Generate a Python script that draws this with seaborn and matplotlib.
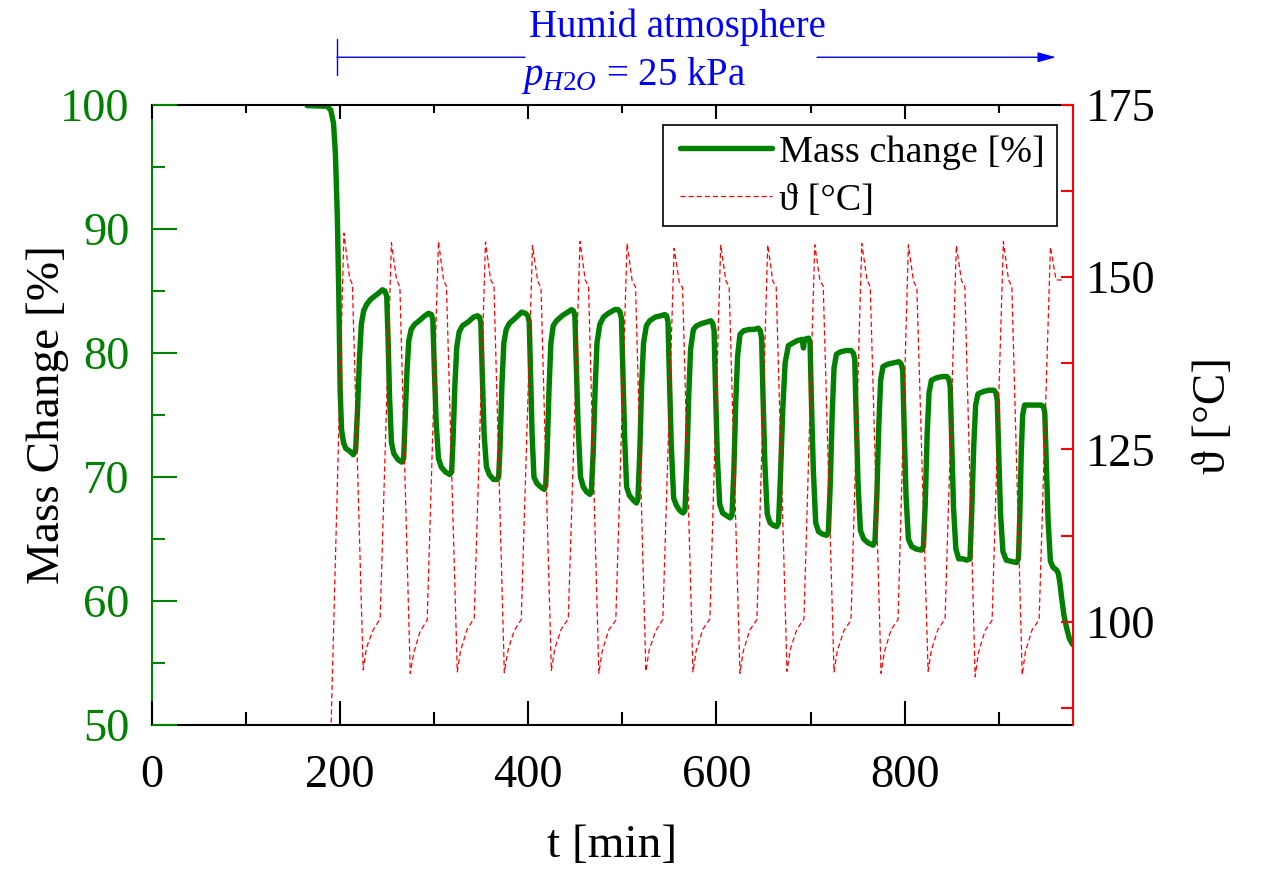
import matplotlib
matplotlib.use("Agg")
import matplotlib.pyplot as plt
from matplotlib.lines import Line2D
from matplotlib.patches import Rectangle
from matplotlib.ticker import MultipleLocator, FixedLocator, NullLocator
import pandas as pd
import seaborn as sns

# Thermogravimetric cycling run: sample mass and furnace temperature over time
time_mass = [
    165.0, 186.0, 190.0, 193.0, 195.0, 197.0, 198.5, 200.0, 201.5, 203.5, 206.0, 210.0, 214.0, 216.5,
    218.5, 220.5, 222.5, 225.0, 228.0, 232.0, 237.0, 242.0, 245.0, 247.5, 249.5,
    251.0, 252.5, 254.5, 257.0, 261.5, 265.5, 267.5, 269.0, 271.0, 273.0, 275.5, 279.0, 284.0, 290.0, 294.0, 297.0, 298.5,
    300.0, 302.0, 304.5, 307.5, 312.0, 316.5, 318.5, 320.0, 322.0, 324.0, 326.5, 330.0, 336.0, 342.0, 346.0, 348.0, 349.5,
    351.0, 353.0, 355.5, 358.5, 363.0, 367.0, 368.5, 370.0, 372.0, 374.0, 376.5, 380.0, 386.0, 393.0, 397.0, 399.5, 401.0,
    402.5, 404.0, 406.0, 409.0, 413.0, 417.0, 418.5, 420.0, 422.0, 424.0, 426.5, 430.0, 436.0, 442.0, 446.0, 448.0, 449.5,
    451.0, 453.0, 455.5, 458.5, 462.0, 465.5, 467.0, 469.0, 471.0, 473.0, 476.0, 480.0, 485.0, 492.0, 495.5, 497.5, 499.0,
    500.5, 502.5, 504.5, 507.5, 512.0, 515.0, 516.5, 518.5, 520.5, 522.5, 525.5, 529.0, 535.0, 541.0, 545.0, 547.0, 548.5,
    550.0, 552.0, 554.5, 557.5, 561.0, 564.5, 566.5, 568.5, 570.5, 572.5, 575.5, 579.0, 585.0, 590.0, 594.0, 596.0, 597.5,
    599.0, 601.0, 603.5, 606.5, 610.5, 614.5, 616.5, 618.5, 620.5, 622.5, 625.0, 629.0, 635.0, 640.0, 644.5, 646.5, 648.0,
    649.5, 651.5, 654.0, 657.0, 660.5, 664.0, 666.0, 668.0, 670.5, 673.0, 676.5, 681.0, 686.0, 691.0, 692.5, 693.5, 698.0, 699.5,
    701.0, 703.0, 705.5, 708.5, 712.5, 717.0, 719.0, 721.0, 723.0, 725.0, 727.5, 732.0, 738.0, 743.0, 745.5, 747.0,
    748.5, 750.5, 753.0, 756.5, 761.0, 766.5, 768.5, 770.5, 772.5, 774.5, 777.0, 782.0, 788.0, 794.0, 796.5, 798.0,
    799.5, 801.5, 804.0, 807.5, 812.0, 818.0, 820.0, 822.0, 824.0, 826.0, 828.5, 834.0, 840.0, 845.0, 847.0, 848.5,
    850.0, 852.0, 854.5, 857.5, 862.0, 866.0, 869.5, 871.5, 873.5, 875.5, 878.0, 884.0, 890.0, 895.0, 897.0, 898.5,
    900.0, 902.0, 904.5, 908.0, 913.0, 919.0, 921.0, 922.5, 924.0, 925.5, 927.5, 933.0, 940.0, 945.0, 947.5, 949.0,
    950.5, 952.5, 955.0, 958.0, 961.5, 963.5, 965.0, 967.0, 969.5, 972.0, 975.0, 978.5,
]
mass_pct = [
    99.95, 99.9, 99.6, 98.5, 96.0, 91.0, 85.0, 77.0, 73.8, 72.8, 72.3, 72.1, 71.8, 72.2,
    75.5, 79.5, 82.3, 83.4, 83.9, 84.3, 84.6, 84.9, 85.1, 85.0, 84.6,
    81.0, 76.5, 72.8, 71.9, 71.4, 71.2, 71.5, 74.5, 78.5, 81.0, 81.9, 82.3, 82.6, 83.0, 83.2, 83.1, 82.7,
    79.0, 74.5, 71.5, 70.8, 70.4, 70.2, 70.4, 73.0, 77.5, 80.5, 81.7, 82.2, 82.5, 82.9, 83.0, 82.9, 82.5,
    78.5, 73.5, 70.8, 70.2, 69.8, 69.8, 70.0, 72.5, 77.5, 80.8, 81.9, 82.4, 82.8, 83.3, 83.2, 83.0, 82.5,
    78.0, 73.5, 70.0, 69.5, 69.2, 69.0, 69.3, 72.0, 77.0, 80.8, 82.2, 82.6, 83.0, 83.3, 83.5, 83.4, 83.0,
    79.0, 74.0, 70.0, 69.2, 68.8, 68.6, 68.8, 72.0, 77.0, 80.8, 82.3, 82.9, 83.2, 83.5, 83.5, 83.3, 82.8,
    78.5, 73.0, 69.2, 68.5, 68.1, 67.9, 68.2, 72.0, 77.5, 80.8, 82.2, 82.6, 82.9, 83.0, 83.1, 83.0, 82.5,
    78.0, 72.5, 68.3, 67.7, 67.3, 67.1, 67.3, 71.0, 76.5, 80.3, 81.9, 82.2, 82.4, 82.5, 82.6, 82.4, 81.8,
    77.0, 71.5, 67.8, 67.1, 66.9, 66.7, 66.9, 70.5, 76.0, 79.8, 81.5, 81.8, 81.9, 81.9, 82.0, 81.8, 81.2,
    76.5, 71.0, 67.0, 66.3, 66.1, 66.0, 66.3, 70.0, 75.5, 79.2, 80.6, 80.8, 81.0, 81.1, 80.4, 81.1, 81.2, 80.8,
    76.0, 70.5, 66.3, 65.6, 65.4, 65.3, 65.6, 69.5, 75.0, 78.8, 79.9, 80.1, 80.2, 80.2, 80.0, 79.5,
    75.0, 69.5, 65.7, 65.0, 64.7, 64.5, 64.8, 68.5, 74.0, 77.8, 78.9, 79.1, 79.2, 79.3, 79.1, 78.6,
    74.0, 68.5, 65.0, 64.4, 64.2, 64.1, 64.4, 68.0, 73.5, 76.8, 77.8, 78.0, 78.1, 78.1, 77.9, 77.3,
    73.0, 67.5, 64.2, 63.4, 63.4, 63.3, 63.4, 67.5, 72.5, 75.8, 76.7, 76.9, 77.0, 77.0, 76.8, 76.2,
    72.0, 67.0, 64.0, 63.3, 63.2, 63.1, 63.4, 67.0, 72.0, 75.0, 75.8, 75.8, 75.8, 75.8, 75.7, 75.2,
    71.5, 66.5, 63.2, 62.7, 62.5, 62.2, 61.5, 60.2, 58.8, 57.9, 57.0, 56.5,
]

time_temp = [
    190.0,
    204.0, 210.0, 213.0, 224.5, 228.0, 235.0, 242.5,
    254.5, 260.0, 263.5, 274.5, 278.5, 285.0, 292.5,
    304.5, 310.0, 313.0, 324.5, 328.0, 335.0, 342.5,
    354.5, 360.0, 363.5, 374.5, 378.5, 385.0, 392.5,
    404.5, 410.0, 413.5, 424.5, 428.0, 435.0, 442.5,
    455.0, 460.5, 464.0, 475.0, 478.5, 485.5, 493.0,
    505.0, 510.5, 514.0, 525.0, 528.5, 535.5, 543.0,
    555.0, 560.5, 564.0, 575.0, 578.5, 585.5, 593.0,
    604.5, 610.0, 613.5, 625.0, 628.5, 635.5, 643.0,
    654.5, 660.0, 663.5, 675.0, 678.5, 685.5, 693.0,
    704.5, 710.0, 713.5, 725.0, 728.5, 735.5, 743.0,
    754.5, 760.0, 763.5, 775.0, 778.5, 785.5, 793.0,
    804.0, 809.5, 813.0, 825.0, 828.5, 835.5, 843.0,
    855.0, 860.5, 864.0, 875.0, 878.5, 885.5, 893.0,
    905.0, 910.5, 914.0, 925.0, 928.5, 935.5, 943.0,
    955.0, 961.0, 969.0,
]
temperature = [
    83.0,
    156.4, 149.8, 149.0, 93.0, 96.2, 98.8, 100.4,
    155.0, 149.6, 148.6, 92.5, 95.6, 98.6, 100.2,
    155.2, 149.5, 148.7, 92.7, 95.8, 98.9, 100.5,
    155.1, 149.6, 148.8, 92.6, 95.9, 98.7, 100.3,
    154.6, 149.4, 148.5, 92.9, 96.0, 98.9, 100.4,
    155.2, 149.6, 148.7, 92.5, 95.7, 98.8, 100.2,
    154.9, 149.4, 148.6, 92.8, 95.9, 98.7, 100.3,
    154.2, 149.3, 148.5, 92.7, 95.8, 98.9, 100.4,
    154.7, 149.5, 148.6, 92.5, 95.7, 98.8, 100.3,
    154.7, 149.4, 148.6, 92.8, 96.0, 98.9, 100.4,
    154.7, 149.5, 148.7, 92.7, 95.8, 98.7, 100.2,
    154.9, 149.6, 148.6, 92.5, 95.6, 98.8, 100.3,
    154.7, 149.4, 148.5, 92.8, 95.9, 98.9, 100.4,
    154.6, 149.5, 148.6, 92.0, 95.5, 98.7, 100.2,
    155.2, 149.6, 148.7, 92.3, 95.7, 98.8, 100.3,
    154.4, 149.6, 149.6,
]

x_ticks = [0, 200, 400, 600, 800]
x_minor = [100, 300, 500, 700, 900]
mass_ticks = [50, 60, 70, 80, 90, 100]
mass_minor = [55, 65, 75, 85, 95]
temp_ticks = [100, 125, 150, 175]
legend_labels = ["Mass change [%]", "\u03d1 [\u00b0C]"]

GREEN = "#008000"
RED = "#ff0000"
BLUE = "#0000ff"

sns.set_style("ticks")
plt.rcParams.update({
    "font.family": ["Liberation Serif", "DejaVu Serif"],
    "mathtext.fontset": "custom",
    "mathtext.rm": "Liberation Serif",
    "mathtext.it": "Liberation Serif:italic",
    "text.color": "black",
    "axes.labelcolor": "black",
    "axes.grid": False,
    "axes.axisbelow": False,
    "xtick.color": "black",
    "ytick.color": "black",
    "xtick.direction": "in",
    "ytick.direction": "in",
    "xtick.labelsize": 33.5,
    "ytick.labelsize": 33.5,
})

W, H = 1278, 885
fig = plt.figure(figsize=(W / 100, H / 100), dpi=100)
rect = [152 / W, 1 - 725 / H, 921 / W, 620 / H]
ax = fig.add_axes(rect)
ax2 = ax.twinx()

mass_df = pd.DataFrame({"t": time_mass, "mass": mass_pct})
temp_df = pd.DataFrame({"t": time_temp, "temp": temperature})

temp_dash = (0, (4, 2.5))
sns.lineplot(data=mass_df, x="t", y="mass", ax=ax, color=GREEN, lw=3.9,
             estimator=None, sort=False)
sns.lineplot(data=temp_df, x="t", y="temp", ax=ax2, color=RED, lw=0.9,
             linestyle=temp_dash, estimator=None, sort=False)

XLIM, MASS_LIM, TEMP_LIM = (0, 979), (50, 100), (85, 175)
ax.set_xlim(*XLIM)
ax.set_ylim(*MASS_LIM)
ax2.set_ylim(*TEMP_LIM)
ax.grid(False)
ax2.grid(False)

# tick labels live on the data axes; tick marks are drawn by overlays below
ax.xaxis.set_major_locator(FixedLocator(x_ticks))
ax.yaxis.set_major_locator(FixedLocator(mass_ticks))
ax2.yaxis.set_major_locator(FixedLocator(temp_ticks))
for a in (ax, ax2):
    a.xaxis.set_minor_locator(NullLocator())
    a.yaxis.set_minor_locator(NullLocator())
ax.xaxis.set_ticks_position("bottom")
ax.yaxis.set_ticks_position("left")
ax2.yaxis.set_ticks_position("right")
ax.tick_params(axis="x", which="major", length=0, pad=21, labelcolor="black")
ax.tick_params(axis="y", which="major", length=0, pad=16, labelcolor=GREEN)
ax2.tick_params(axis="y", which="major", length=0, pad=9, labelcolor="black")


def tick_overlay(xlocs, xside, xlen, ylocs, yside, ylen, ycolor, ylim):
    """Transparent axes drawn above the plot that only carries tick marks."""
    o = fig.add_axes(rect, frameon=False, zorder=10)
    o.set_xlim(*XLIM)
    o.set_ylim(*ylim)
    o.grid(False)
    o.patch.set_visible(False)
    o.xaxis.set_major_locator(NullLocator())
    o.yaxis.set_major_locator(NullLocator())
    o.xaxis.set_minor_locator(xlocs if xlocs is not None else NullLocator())
    o.yaxis.set_minor_locator(ylocs if ylocs is not None else NullLocator())
    o.tick_params(axis="x", which="minor", direction="in", length=xlen,
                  width=1.5, color="black", bottom=(xside == "bottom"),
                  top=(xside == "top"), labelbottom=False, labeltop=False)
    o.tick_params(axis="y", which="minor", direction="in", length=ylen,
                  width=1.5, color=ycolor, left=(yside == "left"),
                  right=(yside == "right"), labelleft=False, labelright=False)
    return o


tick_overlay(FixedLocator(x_ticks), "bottom", 17.5,
             FixedLocator(mass_ticks), "left", 18, GREEN, MASS_LIM)
tick_overlay(FixedLocator(x_minor), "bottom", 9.4,
             FixedLocator(mass_minor), "left", 9.4, GREEN, MASS_LIM)
tick_overlay(FixedLocator(x_ticks), "top", 10,
             MultipleLocator(12.5), "right", 9, RED, TEMP_LIM)
tick_overlay(FixedLocator(x_minor), "top", 5.8, None, "right", 0, RED, TEMP_LIM)

for name in ("top", "bottom"):
    ax.spines[name].set_color("black")
    ax.spines[name].set_linewidth(1.5)
ax.spines["left"].set_color(GREEN)
ax.spines["left"].set_linewidth(1.5)
ax.spines["right"].set_visible(False)
for name in ("left", "top", "bottom"):
    ax2.spines[name].set_visible(False)
ax2.spines["right"].set_visible(True)
ax2.spines["right"].set_color(RED)
ax2.spines["right"].set_linewidth(1.5)

ax.set_xlabel("t [min]", fontsize=34, labelpad=20)
ax.set_ylabel("Mass Change [%]", fontsize=34, labelpad=-6)
ax2.set_ylabel("\u03d1 [\u00b0C]", fontsize=34, labelpad=27)

# humid-atmosphere span above the plot
ax.annotate("", xy=(396.5, 103.85), xytext=(196.5, 103.85), xycoords="data",
            annotation_clip=False,
            arrowprops=dict(arrowstyle="|-|,widthA=0.65,widthB=0", color=BLUE,
                            lw=1.0, mutation_scale=20, shrinkA=0, shrinkB=0))
ax.annotate("", xy=(961.0, 103.85), xytext=(707.0, 103.85), xycoords="data",
            annotation_clip=False,
            arrowprops=dict(arrowstyle="-|>,head_length=1.1,head_width=0.3",
                            color=BLUE, lw=1.0, mutation_scale=10,
                            shrinkA=0, shrinkB=0))
ax.text(558, 105.5, "Humid atmosphere", color=BLUE, fontsize=28,
        ha="center", va="baseline", clip_on=False)
ax.text(512.3, 101.6, r"$p_{\mathit{H2O}}$ = 25 kPa", color=BLUE, fontsize=28,
        ha="center", va="baseline", clip_on=False)

# legend: entries without their own frame, boxed by a plain rectangle
box = Rectangle((0.5548, 0.8048), 0.4278, 0.1629, transform=ax2.transAxes,
                facecolor="white", edgecolor="black", lw=1.2, zorder=4)
ax2.add_patch(box)
handles = [Line2D([], [], color=GREEN, lw=3.9),
           Line2D([], [], color=RED, lw=0.9, linestyle=temp_dash)]
leg = ax2.legend(handles, legend_labels, loc="upper left",
                 bbox_to_anchor=(0.5733, 0.9516), borderaxespad=0,
                 fontsize=27.5, frameon=False, handlelength=2.4,
                 handletextpad=0.2, labelspacing=0.35, borderpad=0)
leg.set_zorder(5)
for txt in leg.get_texts():
    txt.set_color("black")

fig.savefig("out.png", dpi=100, facecolor="white")
